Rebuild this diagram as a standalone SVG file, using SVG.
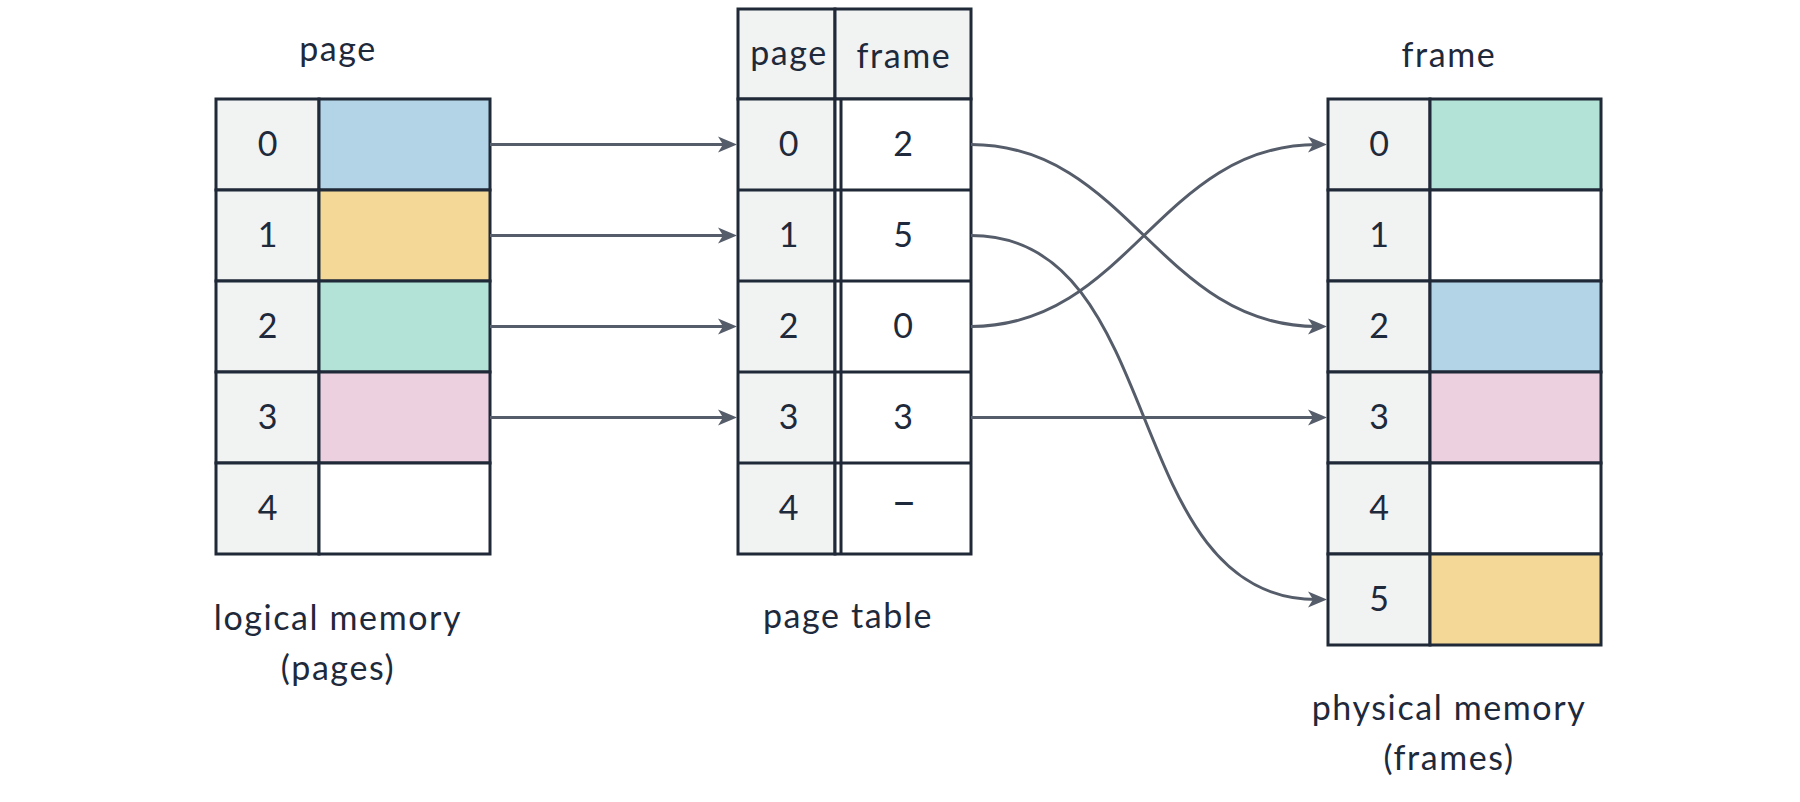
<svg xmlns="http://www.w3.org/2000/svg" width="1800" height="802" viewBox="0 0 1800 802">
<defs>
<style>
.t{font-family:Lato,"Liberation Sans",sans-serif;font-size:34px;letter-spacing:1.6px;fill:#1e293b;text-anchor:middle}
.cell{stroke:#1f2937;stroke-width:3}
.g{fill:#f1f2f2}.w{fill:#ffffff}.b{fill:#b3d4e6}.y{fill:#f3d898}.gr{fill:#b3e2d7}.p{fill:#edd0df}
.ln{stroke:#1f2937;stroke-width:3;fill:none}
.c{stroke:#565d6a;stroke-width:3;fill:none;marker-end:url(#ah)}
</style>
<marker id="ah" markerUnits="userSpaceOnUse" markerWidth="22" markerHeight="20" refX="9" refY="9" orient="auto" viewBox="0 0 22 20">
<path d="M0,1 L19,9 L0,17 L5,9 Z" fill="#565d6a"/>
</marker>
</defs>
<rect width="1800" height="802" fill="#ffffff"/>

<g id="logical-memory">
<text class="t" x="338" y="61">page</text>
<rect class="cell g" x="216" y="99" width="103" height="91"/><rect class="cell b" x="319" y="99" width="171" height="91"/>
<rect class="cell g" x="216" y="190" width="103" height="91"/><rect class="cell y" x="319" y="190" width="171" height="91"/>
<rect class="cell g" x="216" y="281" width="103" height="91"/><rect class="cell gr" x="319" y="281" width="171" height="91"/>
<rect class="cell g" x="216" y="372" width="103" height="91"/><rect class="cell p" x="319" y="372" width="171" height="91"/>
<rect class="cell g" x="216" y="463" width="103" height="91"/><rect class="cell w" x="319" y="463" width="171" height="91"/>
<text class="t" x="268.5" y="156">0</text>
<text class="t" x="268.5" y="247">1</text>
<text class="t" x="268.5" y="338">2</text>
<text class="t" x="268.5" y="429">3</text>
<text class="t" x="268.5" y="520">4</text>
<text class="t" x="338" y="630">logical memory</text>
<text class="t" x="338" y="680">(pages)</text>
</g>

<g id="page-table">
<rect class="cell g" x="738" y="9" width="97" height="90"/><rect class="cell g" x="835" y="9" width="136" height="90"/>
<rect class="cell g" x="738" y="99" width="97" height="455"/>
<rect class="cell w" x="835" y="99" width="136" height="455"/>
<line class="ln" x1="738" y1="190" x2="971" y2="190"/>
<line class="ln" x1="738" y1="281" x2="971" y2="281"/>
<line class="ln" x1="738" y1="372" x2="971" y2="372"/>
<line class="ln" x1="738" y1="463" x2="971" y2="463"/>
<line class="ln" x1="841" y1="99" x2="841" y2="554"/>
<text class="t" x="789" y="65">page</text>
<text class="t" x="904" y="68">frame</text>
<text class="t" x="789.5" y="156">0</text><text class="t" x="904" y="156">2</text>
<text class="t" x="789.5" y="247">1</text><text class="t" x="904" y="247">5</text>
<text class="t" x="789.5" y="338">2</text><text class="t" x="904" y="338">0</text>
<text class="t" x="789.5" y="429">3</text><text class="t" x="904" y="429">3</text>
<text class="t" x="789.5" y="520">4</text><text class="t" x="904" y="517" style="font-size:44px;letter-spacing:0">–</text>
<text class="t" x="848" y="628">page table</text>
</g>

<g id="physical-memory">
<text class="t" x="1449" y="67">frame</text>
<rect class="cell g" x="1328" y="99" width="102" height="91"/><rect class="cell gr" x="1430" y="99" width="171" height="91"/>
<rect class="cell g" x="1328" y="190" width="102" height="91"/><rect class="cell w" x="1430" y="190" width="171" height="91"/>
<rect class="cell g" x="1328" y="281" width="102" height="91"/><rect class="cell b" x="1430" y="281" width="171" height="91"/>
<rect class="cell g" x="1328" y="372" width="102" height="91"/><rect class="cell p" x="1430" y="372" width="171" height="91"/>
<rect class="cell g" x="1328" y="463" width="102" height="91"/><rect class="cell w" x="1430" y="463" width="171" height="91"/>
<rect class="cell g" x="1328" y="554" width="102" height="91"/><rect class="cell y" x="1430" y="554" width="171" height="91"/>
<text class="t" x="1380" y="156">0</text>
<text class="t" x="1380" y="247">1</text>
<text class="t" x="1380" y="338">2</text>
<text class="t" x="1380" y="429">3</text>
<text class="t" x="1380" y="520">4</text>
<text class="t" x="1380" y="611">5</text>
<text class="t" x="1449" y="720">physical memory</text>
<text class="t" x="1449" y="770">(frames)</text>
</g>

<g id="connectors">
<path class="c" d="M490,144.5 H727"/>
<path class="c" d="M490,235.5 H727"/>
<path class="c" d="M490,326.5 H727"/>
<path class="c" d="M490,417.5 H727"/>
<path class="c" d="M971,144.5 C1128,144.5 1160,326.5 1317,326.5"/>
<path class="c" d="M971,235.5 C1170,235.5 1118,599.5 1317,599.5"/>
<path class="c" d="M971,326.5 C1128,326.5 1160,144.5 1317,144.5"/>
<path class="c" d="M971,417.5 H1317"/>
</g>
</svg>
